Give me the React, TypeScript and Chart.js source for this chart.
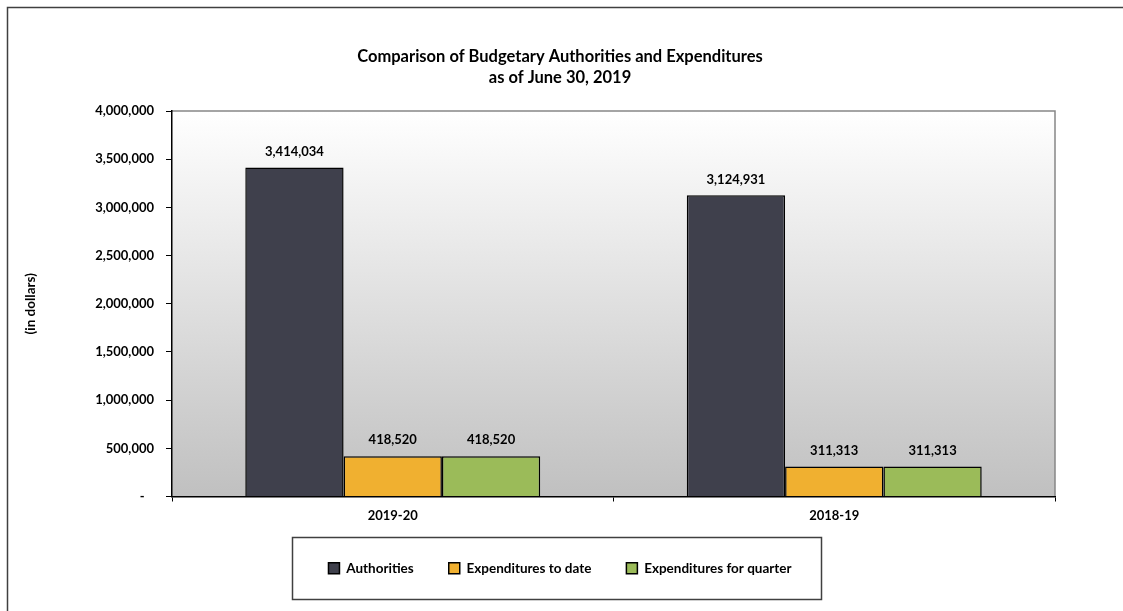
import React, { useEffect, useRef } from "react";
import { Chart, registerables } from "chart.js";

Chart.register(...registerables);

const categories = ["2019-20", "2018-19"];
const seriesNames = ["Authorities", "Expenditures to date", "Expenditures for quarter"];
const authorities = [3414034, 3124931];
const expendituresToDate = [418520, 311313];
const expendituresForQuarter = [418520, 311313];
const seriesColors = ["#3F404C", "#F0B030", "#9BBB59"];
const titleLines = ["Comparison of Budgetary Authorities and Expenditures", "as of June 30, 2019"];
const yAxisTitle = "(in dollars)";
const yMin = 0;
const yMax = 4000000;
const yStep = 500000;

const FONT = "Lato";

const fmt = (v: number) => v.toLocaleString("en-US");

const decorPlugin = {
  id: "decor",
  beforeDraw(chart: any) {
    const { ctx, chartArea: a } = chart;
    ctx.save();
    // outer frame
    ctx.strokeStyle = "#404040";
    ctx.lineWidth = 1.5;
    ctx.beginPath();
    ctx.moveTo(7.5, chart.height + 5);
    ctx.lineTo(7.5, 7.5);
    ctx.lineTo(chart.width + 5, 7.5);
    ctx.stroke();
    // plot background gradient
    const g = ctx.createLinearGradient(0, a.top, 0, a.bottom);
    g.addColorStop(0, "#ffffff");
    g.addColorStop(1, "#c0c0c0");
    ctx.fillStyle = g;
    ctx.fillRect(a.left, a.top, a.right - a.left, a.bottom - a.top);
    // top / right border
    ctx.strokeStyle = "#868686";
    ctx.lineWidth = 1.5;
    ctx.beginPath();
    ctx.moveTo(a.left, a.top);
    ctx.lineTo(a.right, a.top);
    ctx.lineTo(a.right, a.bottom);
    ctx.stroke();
    ctx.restore();
  },
  afterDatasetsDraw(chart: any) {
    const { ctx } = chart;
    ctx.save();
    ctx.font = `bold 13px ${FONT}`;
    ctx.fillStyle = "#000";
    ctx.textAlign = "center";
    ctx.textBaseline = "middle";
    chart.data.datasets.forEach((ds: any, i: number) => {
      const meta = chart.getDatasetMeta(i);
      meta.data.forEach((bar: any, j: number) => {
        ctx.fillText(fmt(ds.data[j]), bar.x, bar.y - 16);
      });
    });
    ctx.restore();
  },
  afterDraw(chart: any) {
    const lg = chart.legend;
    if (!lg || !lg.legendHitBoxes || !lg.legendHitBoxes.length) return;
    const hb = lg.legendHitBoxes;
    const left = Math.min(...hb.map((h: any) => h.left));
    const right = Math.max(...hb.map((h: any) => h.left + h.width));
    const cy = hb[0].top + hb[0].height / 2;
    const { ctx } = chart;
    ctx.save();
    ctx.strokeStyle = "#404040";
    ctx.lineWidth = 1.5;
    ctx.strokeRect(Math.round(left - 36) + 0.5, Math.round(cy - 31) + 0.5, Math.round(right - left + 66), 62);
    ctx.restore();
  },
};

export default function App() {
  const ref = useRef<HTMLCanvasElement | null>(null);
  useEffect(() => {
    if (!ref.current) return;
    const values = [authorities, expendituresToDate, expendituresForQuarter];
    const chart = new Chart(ref.current, {
      type: "bar",
      data: {
        labels: categories,
        datasets: seriesNames.map((name, i) => ({
          label: name,
          data: values[i],
          backgroundColor: seriesColors[i],
          borderColor: "#000000",
          borderWidth: 1.5,
          barPercentage: 1,
          categoryPercentage: 0.668,
        })),
      },
      options: {
        responsive: false,
        animation: false,
        devicePixelRatio: 1,
        layout: { padding: { left: 18, right: 21, top: 10, bottom: 26 } },
        font: { family: FONT },
        plugins: {
          tooltip: { enabled: false },
          title: {
            display: true,
            text: titleLines,
            color: "#000",
            font: { family: FONT, size: 16.5, weight: "bold", lineHeight: "21px" },
            padding: { top: 36, bottom: 23 },
          },
          legend: {
            position: "bottom",
            labels: {
              color: "#000",
              font: { family: FONT, size: 13.5, weight: "bold" },
              boxWidth: 11,
              boxHeight: 11,
              padding: 35,
            },
          },
        },
        scales: {
          x: {
            grid: { drawOnChartArea: false, drawTicks: true, tickLength: 5, color: "#000", offset: true },
            border: { color: "#000", width: 1.5 },
            ticks: { color: "#000", padding: 7, font: { family: FONT, size: 13, weight: "bold" } },
            afterFit: (s: any) => { s.height = 30; },
          },
          y: {
            min: yMin,
            max: yMax,
            grid: { drawOnChartArea: false, drawTicks: true, tickLength: 6, color: "#000" },
            border: { color: "#000", width: 1.5 },
            ticks: {
              stepSize: yStep,
              color: "#000",
              padding: 12,
              font: { family: FONT, size: 13, weight: "bold" },
              callback: (v: any) => (Number(v) === 0 ? "-   " : fmt(Number(v))),
            },
            title: {
              display: true,
              text: yAxisTitle,
              color: "#000",
              font: { family: FONT, size: 13.5, weight: "bold" },
              padding: { top: 5 },
            },
            afterFit: (s: any) => { s.width = 154; },
          },
          y2: {
            position: "right",
            display: true,
            grid: { display: false, drawTicks: false },
            border: { display: false },
            ticks: { display: false },
            afterFit: (s: any) => { s.width = 47; },
          },
        },
      },
      plugins: [decorPlugin],
    } as any);
    return () => chart.destroy();
  }, []);
  return (
    <div style={{ position: "absolute", left: 0, top: 0, width: 1123, height: 611, background: "#fff" }}>
      <canvas ref={ref} width={1123} height={611} style={{ display: "block" }} />
    </div>
  );
}
